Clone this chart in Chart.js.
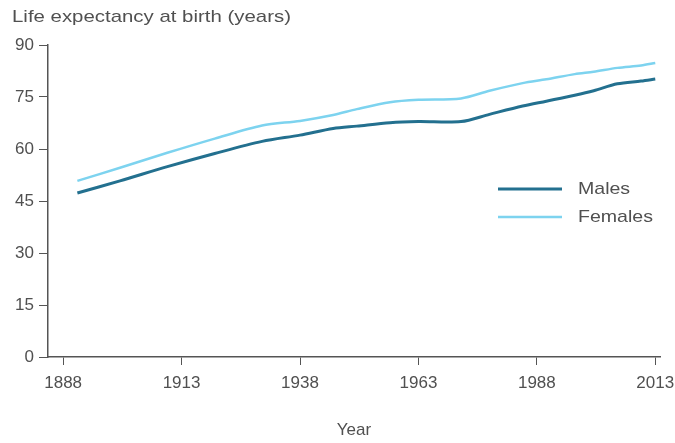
<!DOCTYPE html>
<html>
<head>
<meta charset="utf-8">
<script src="https://cdn.jsdelivr.net/npm/chart.js@4"></script>
<style>
  html, body { margin: 0; padding: 0; background: #fff; }
  #wrap { width: 675px; height: 443px; }
</style>
</head>
<body>
<div id="wrap"><canvas id="lifeChart" width="675" height="443"></canvas></div>
<script>
// values
const years = [1891, 1900, 1910, 1920, 1930, 1938, 1945, 1950, 1957, 1963, 1972, 1978, 1985, 1990, 1996, 2000, 2005, 2010, 2013];
const males = [47.3, 50.8, 54.9, 58.7, 62.2, 64.0, 65.9, 66.6, 67.6, 67.9, 67.9, 70.0, 72.4, 73.8, 75.5, 76.8, 78.8, 79.6, 80.2];
const females = [50.8, 54.6, 58.9, 63.0, 66.8, 68.1, 69.8, 71.5, 73.5, 74.2, 74.6, 76.8, 79.0, 80.1, 81.6, 82.3, 83.4, 84.1, 84.8];
const xTicks = [1888, 1913, 1938, 1963, 1988, 2013];
const yTicks = [0, 15, 30, 45, 60, 75, 90];

const textColor = '#505050';
const axisColor = '#555';
const font = { family: "'Liberation Sans', Arial, sans-serif", size: 17 };

function toPoints(vals) {
    return years.map((y, i) => ({ x: y, y: vals[i] }));
}

// text a little wider than the font, like the source picture
function wideText(ctx, text, x, y, sx) {
    ctx.save();
    ctx.translate(x, y);
    ctx.scale(sx, 1);
    ctx.fillText(text, 0, 0);
    ctx.restore();
}

// y title at top left and the legend inside the plot
const extras = {
    id: 'extras',
    afterDraw(chart) {
        const ctx = chart.ctx;
        ctx.save();
        ctx.fillStyle = textColor;
        ctx.font = `${font.size}px ${font.family}`;
        ctx.textBaseline = 'middle';
        ctx.textAlign = 'left';
        wideText(ctx, 'Life expectancy at birth (years)', 12, 17, 1.2);

        chart.data.datasets.forEach((ds, i) => {
            const y = 189 + i * 28;
            ctx.strokeStyle = ds.borderColor;
            ctx.lineWidth = ds.borderWidth;
            ctx.beginPath();
            ctx.moveTo(498, y);
            ctx.lineTo(562, y);
            ctx.stroke();
            wideText(ctx, ds.label, 578, y, 1.15);
        });
        ctx.restore();
    }
};

new Chart(document.getElementById('lifeChart').getContext('2d'), {
    type: 'line',
    data: {
        datasets: [{
            label: 'Males',
            data: toPoints(males),
            borderColor: '#23708f',
            borderWidth: 3,
            pointRadius: 0,
            tension: 0.3
        }, {
            label: 'Females',
            data: toPoints(females),
            borderColor: '#7dd3ef',
            borderWidth: 2.5,
            pointRadius: 0,
            tension: 0.3
        }]
    },
    options: {
        responsive: false,
        animation: false,
        layout: { padding: { top: 45, right: 15, left: 0, bottom: 0 } },
        plugins: {
            legend: { display: false },
            tooltip: { enabled: false }
        },
        scales: {
            x: {
                type: 'linear',
                min: 1884.8,
                max: 2014,
                afterBuildTicks: (scale) => { scale.ticks = xTicks.map(v => ({ value: v })); },
                afterFit: (scale) => {
                    scale.height = 86;
                    scale.paddingLeft = 0;
                    scale.paddingRight = 0;
                },
                grid: { display: true, drawOnChartArea: false, drawTicks: true, tickLength: 8, color: axisColor },
                border: { display: true, color: axisColor, width: 1.5 },
                ticks: { color: textColor, font: font, padding: 8, maxRotation: 0, callback: v => String(v) },
                title: { display: true, text: 'Year', color: textColor, font: font, padding: { top: 0, bottom: 2 } }
            },
            y: {
                min: 0,
                max: 90,
                afterBuildTicks: (scale) => { scale.ticks = yTicks.map(v => ({ value: v })); },
                afterFit: (scale) => { scale.width = 48; },
                grid: { display: true, drawOnChartArea: false, drawTicks: true, tickLength: 9, color: axisColor },
                border: { display: true, color: axisColor, width: 1.5 },
                ticks: { color: textColor, font: font, padding: 5 }
            }
        }
    },
    plugins: [extras]
});
</script>
</body>
</html>
